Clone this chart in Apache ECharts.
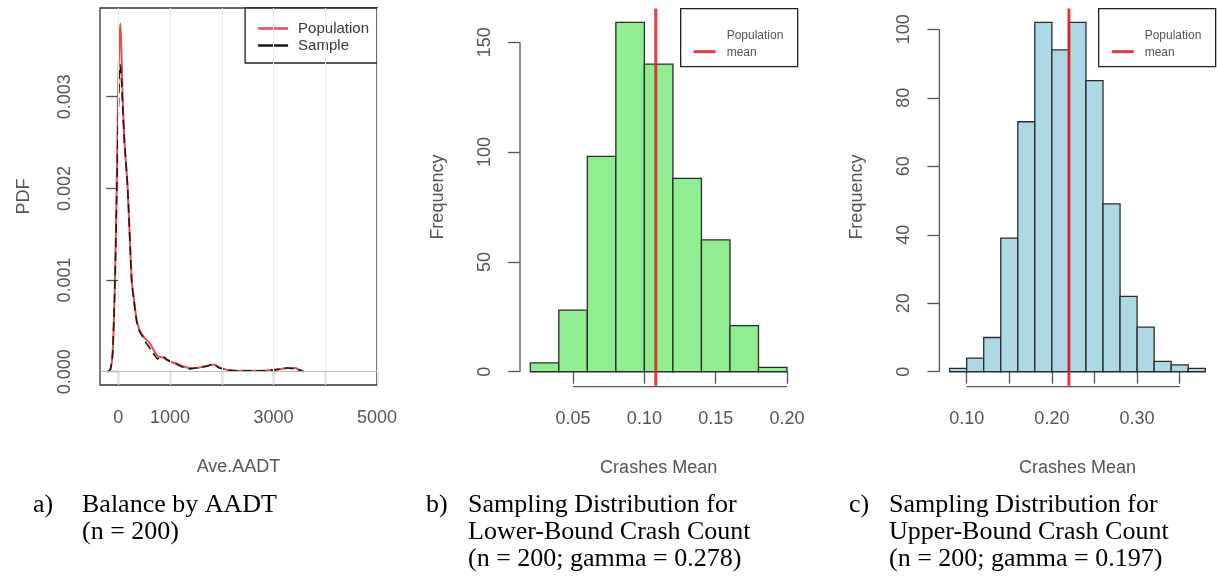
<!DOCTYPE html>
<html>
<head>
<meta charset="utf-8">
<script src="https://cdn.jsdelivr.net/npm/echarts@6/dist/echarts.min.js"></script>
<style>
  html, body { margin: 0; padding: 0; background: #fff; }
  #chart { width: 1217px; height: 579px; }
</style>
</head>
<body>
<div id="chart"></div>
<script>
// ---- Panel a: density of average AADT, population vs sample ----
const aadtX = [-200, -150, -110, -64, -32, 0, 20, 40, 60, 84, 120, 181, 258, 300, 355, 400, 452, 520, 581, 640, 700, 760, 820, 880, 950, 1050, 1130, 1250, 1387, 1500, 1600, 1700, 1838, 1950, 2100, 2300, 2550, 2800, 3000, 3150, 3260, 3420, 3500, 3580];
const popPdf = [0, 0.00003, 0.0002, 0.001, 0.002, 0.0031, 0.0036, 0.0038, 0.0035, 0.003, 0.0025, 0.002, 0.001, 0.0008, 0.00056, 0.00047, 0.00041, 0.00036, 0.00033, 0.00028, 0.00022, 0.00017, 0.00016, 0.00015, 0.00012, 0.0001, 0.00009, 0.00006, 0.00004, 0.00004, 0.00005, 0.00006, 0.00008, 0.00005, 0.00002, 0.00001, 0.00001, 0.00001, 0.00002, 0.00003, 0.00004, 0.00004, 0.00002, 0];
const samplePdf = [0, 0.00003, 0.0002, 0.001, 0.0019, 0.0028, 0.0032, 0.00335, 0.0032, 0.0029, 0.0025, 0.002, 0.001, 0.00078, 0.00055, 0.00045, 0.0004, 0.00033, 0.00028, 0.00023, 0.00018, 0.00014, 0.00017, 0.00016, 0.00013, 0.0001, 0.00008, 0.00005, 0.00003, 0.00004, 0.00005, 0.00006, 0.00008, 0.00004, 0.00002, 0.00001, 0.00001, 0.00001, 0.00002, 0.00003, 0.00004, 0.00003, 0.00002, 0];
const aadtTicks = [0, 1000, 2000, 3000, 4000, 5000];
const aadtLabels = [0, 1000, 3000, 5000];
const pdfTicks = [0, 0.001, 0.002, 0.003];
const aadtRange = [-354, 5000];
const pdfRange = [-0.000145, 0.003968];

// ---- Panel b: lower-bound crash count sampling distribution ----
const lowerBinStart = [0.02, 0.04, 0.06, 0.08, 0.10, 0.12, 0.14, 0.16, 0.18];
const lowerCounts = [4, 28, 98, 159, 140, 88, 60, 21, 2];
const lowerMean = 0.108;
const lowerXTicks = [0.05, 0.10, 0.15, 0.20];
const lowerYTicks = [0, 50, 100, 150];

// ---- Panel c: upper-bound crash count sampling distribution ----
const upperBinStart = [0.08, 0.10, 0.12, 0.14, 0.16, 0.18, 0.20, 0.22, 0.24, 0.26, 0.28, 0.30, 0.32, 0.34, 0.36];
const upperCounts = [1, 4, 10, 39, 73, 102, 94, 102, 85, 49, 22, 13, 3, 2, 1];
const upperMean = 0.22;
const upperXTicks = [0.10, 0.15, 0.20, 0.25, 0.30, 0.35];
const upperXLabels = [0.10, 0.20, 0.30];
const upperYTicks = [0, 20, 40, 60, 80, 100];

const binWidth = 0.02;

// R-style axis extents: data range padded by 4% on each side
function padded(lo, hi) {
  const d = (hi - lo) * 0.04;
  return [lo - d, hi + d];
}
const lowerXRange = padded(lowerBinStart[0], lowerBinStart[lowerBinStart.length - 1] + binWidth);
const lowerYRange = padded(0, Math.max(...lowerCounts));
const upperXRange = padded(upperBinStart[0], upperBinStart[upperBinStart.length - 1] + binWidth);
const upperYRange = padded(0, Math.max(...upperCounts));

const SANS = 'Liberation Sans, Arial, sans-serif';
const SERIF = 'Liberation Serif, Times New Roman, serif';
const AXIS_GRAY = '#555';
const MEAN_RED = 'rgba(222, 32, 36, 0.88)';

function tickAxis(opts) {
  return Object.assign({
    type: 'value',
    axisLine: { show: false },
    splitLine: { show: false },
    axisTick: {
      show: true, length: 12, customValues: opts.ticks,
      lineStyle: { color: AXIS_GRAY, width: 1.3 }
    },
    axisLabel: {
      show: true, customValues: opts.labels || opts.ticks,
      fontFamily: SANS, fontSize: 18, color: AXIS_GRAY,
      margin: opts.margin, rotate: opts.rotate || 0,
      formatter: opts.fmt
    },
    nameLocation: 'middle',
    nameTextStyle: { fontFamily: SANS, fontSize: 18, color: AXIS_GRAY }
  }, opts.extra);
}

function histRenderer(fill) {
  return function (params, api) {
    const top = api.coord([api.value(0), api.value(2)]);
    const base = api.coord([api.value(1), 0]);
    return {
      type: 'rect',
      shape: { x: top[0], y: top[1], width: base[0] - top[0], height: base[1] - top[1] },
      style: { fill: fill, stroke: '#2b2b2b', lineWidth: 1.3 }
    };
  };
}

// Detached R-style axis lines running from the first to the last tick
function axisFrameRenderer(xTicks, yTicks) {
  return function (params, api) {
    const cs = params.coordSys;
    const bottom = cs.y + cs.height;
    const left = cs.x;
    const xa = api.coord([xTicks[0], 0])[0];
    const xb = api.coord([xTicks[xTicks.length - 1], 0])[0];
    const ya = api.coord([xTicks[0], yTicks[0]])[1];
    const yb = api.coord([xTicks[0], yTicks[yTicks.length - 1]])[1];
    const st = { stroke: AXIS_GRAY, lineWidth: 1.3 };
    return {
      type: 'group',
      children: [
        { type: 'line', shape: { x1: xa, y1: bottom + 1, x2: xb, y2: bottom + 1 }, style: st },
        { type: 'line', shape: { x1: left, y1: ya, x2: left, y2: yb }, style: st }
      ]
    };
  };
}

// Boxed "Population mean" key drawn in the histogram panels
function meanKey(x, y) {
  return {
    type: 'group', left: x, top: y, silent: true,
    children: [
      { type: 'rect', shape: { x: 0, y: 0, width: 117, height: 58 }, style: { fill: '#fff', stroke: '#222', lineWidth: 1.3 } },
      { type: 'line', shape: { x1: 13, y1: 43, x2: 35, y2: 43 }, style: { stroke: MEAN_RED, lineWidth: 3 } },
      { type: 'text', x: 46, y: 27, style: { text: 'Population', font: '12px ' + SANS, fill: '#555', verticalAlign: 'middle' } },
      { type: 'text', x: 46, y: 44, style: { text: 'mean', font: '12px ' + SANS, fill: '#555', verticalAlign: 'middle' } }
    ]
  };
}

function caption(x, tag, text) {
  return [
    { type: 'text', left: x, top: 492, style: { text: tag, font: '26px ' + SERIF, fill: '#000' } },
    { type: 'text', left: x + (tag === 'a)' ? 49 : tag === 'b)' ? 42 : 40), top: 492,
      style: { text: text, font: '26px ' + SERIF, lineHeight: 27, fill: '#000' } }
  ];
}

const chart = echarts.init(document.getElementById('chart'), null, { renderer: 'canvas' });

const option = {
  animation: false,
  backgroundColor: '#ffffff',
  grid: [
    { left: 100, top: 8, width: 277, height: 377, show: true, borderColor: '#333', borderWidth: 1.3, backgroundColor: 'transparent' },
    { left: 520, top: 8.5, width: 277.3, height: 377.2 },
    { left: 939.4, top: 8.5, width: 276.1, height: 377.2 }
  ],
  xAxis: [
    tickAxis({ ticks: aadtTicks, labels: aadtLabels, margin: 24, fmt: v => String(v),
      extra: { gridIndex: 0, min: aadtRange[0], max: aadtRange[1], name: 'Ave.AADT', nameGap: 73 } }),
    tickAxis({ ticks: lowerXTicks, margin: 24, fmt: v => v.toFixed(2),
      extra: { gridIndex: 1, min: lowerXRange[0], max: lowerXRange[1], name: 'Crashes Mean', nameGap: 73 } }),
    tickAxis({ ticks: upperXTicks, labels: upperXLabels, margin: 24, fmt: v => v.toFixed(2),
      extra: { gridIndex: 2, min: upperXRange[0], max: upperXRange[1], name: 'Crashes Mean', nameGap: 73 } })
  ],
  yAxis: [
    tickAxis({ ticks: pdfTicks, margin: 26, rotate: 90, fmt: v => v.toFixed(3),
      extra: { gridIndex: 0, min: pdfRange[0], max: pdfRange[1], name: 'PDF', nameGap: 67 } }),
    tickAxis({ ticks: lowerYTicks, margin: 26, rotate: 90, fmt: v => String(v),
      extra: { gridIndex: 1, min: lowerYRange[0], max: lowerYRange[1], name: 'Frequency', nameGap: 73 } }),
    tickAxis({ ticks: upperYTicks, margin: 26, rotate: 90, fmt: v => String(v),
      extra: { gridIndex: 2, min: upperYRange[0], max: upperYRange[1], name: 'Frequency', nameGap: 73 } })
  ],
  legend: [
    {
      data: ['Population', 'Sample'], right: 1217 - 377, top: 8, orient: 'vertical',
      borderColor: '#222', borderWidth: 1.3, borderRadius: 0, backgroundColor: '#fff',
      padding: [13, 8, 10, 13], itemWidth: 30, itemHeight: 2.5, itemGap: 2,
      icon: 'rect',
      textStyle: { fontFamily: SANS, fontSize: 15, lineHeight: 15, color: '#3a3a3a', padding: [0, 0, 0, 5] }
    }
  ],
  series: [
    // Panel a: light reference grid and the gray zero line
    {
      name: 'grid-a', type: 'line', xAxisIndex: 0, yAxisIndex: 0, data: [], z: 1, silent: true,
      markLine: {
        silent: true, symbol: 'none', label: { show: false }, animation: false,
        lineStyle: { color: '#ececec', type: 'solid', width: 1 },
        data: [
          ...aadtTicks.map(v => ({ xAxis: v })),
          ...pdfTicks.filter(v => v > 0).map(v => ({ yAxis: v })),
          { yAxis: 0, lineStyle: { color: '#bdbdbd', width: 1.2 } }
        ]
      }
    },
    {
      name: 'Population', type: 'line', xAxisIndex: 0, yAxisIndex: 0, z: 3,
      data: aadtX.map((x, i) => [x, popPdf[i]]),
      symbol: 'none', smooth: 0.25, color: '#ef4a4f',
      lineStyle: { color: '#ef4a4f', width: 2 }
    },
    {
      name: 'Sample', type: 'line', xAxisIndex: 0, yAxisIndex: 0, z: 4,
      data: aadtX.map((x, i) => [x, samplePdf[i]]),
      symbol: 'none', smooth: 0.25, color: '#1a1a1a',
      lineStyle: { color: '#1a1a1a', width: 1.6, type: [9, 5] }
    },
    // Panel b: histogram, axes and mean
    {
      name: 'lower-hist', type: 'custom', xAxisIndex: 1, yAxisIndex: 1, z: 2,
      renderItem: histRenderer('#90ee90'),
      encode: { x: [0, 1], y: 2 },
      data: lowerBinStart.map((s, i) => [s, s + binWidth, lowerCounts[i]])
    },
    {
      name: 'lower-axes', type: 'custom', xAxisIndex: 1, yAxisIndex: 1, z: 2, silent: true,
      renderItem: axisFrameRenderer(lowerXTicks, lowerYTicks), data: [[lowerXTicks[0], 0]]
    },
    {
      name: 'Population mean', type: 'line', xAxisIndex: 1, yAxisIndex: 1, z: 5,
      data: [[lowerMean, lowerYRange[0]], [lowerMean, lowerYRange[1]]],
      symbol: 'none', color: MEAN_RED, lineStyle: { color: MEAN_RED, width: 3 }
    },
    // Panel c: histogram, axes and mean
    {
      name: 'upper-hist', type: 'custom', xAxisIndex: 2, yAxisIndex: 2, z: 2,
      renderItem: histRenderer('#add8e6'),
      encode: { x: [0, 1], y: 2 },
      data: upperBinStart.map((s, i) => [s, s + binWidth, upperCounts[i]])
    },
    {
      name: 'upper-axes', type: 'custom', xAxisIndex: 2, yAxisIndex: 2, z: 2, silent: true,
      renderItem: axisFrameRenderer(upperXTicks, upperYTicks), data: [[upperXTicks[0], 0]]
    },
    {
      name: 'Population mean', type: 'line', xAxisIndex: 2, yAxisIndex: 2, z: 5,
      data: [[upperMean, upperYRange[0]], [upperMean, upperYRange[1]]],
      symbol: 'none', color: MEAN_RED, lineStyle: { color: MEAN_RED, width: 3 }
    }
  ],
  graphic: [
    meanKey(680, 8),
    meanKey(1098, 8),
    ...caption(33, 'a)', 'Balance by AADT\n(n = 200)'),
    ...caption(426, 'b)', 'Sampling Distribution for\nLower-Bound Crash Count\n(n = 200; gamma = 0.278)'),
    ...caption(849, 'c)', 'Sampling Distribution for\nUpper-Bound Crash Count\n(n = 200; gamma = 0.197)')
  ]
};

chart.setOption(option);
</script>
</body>
</html>
